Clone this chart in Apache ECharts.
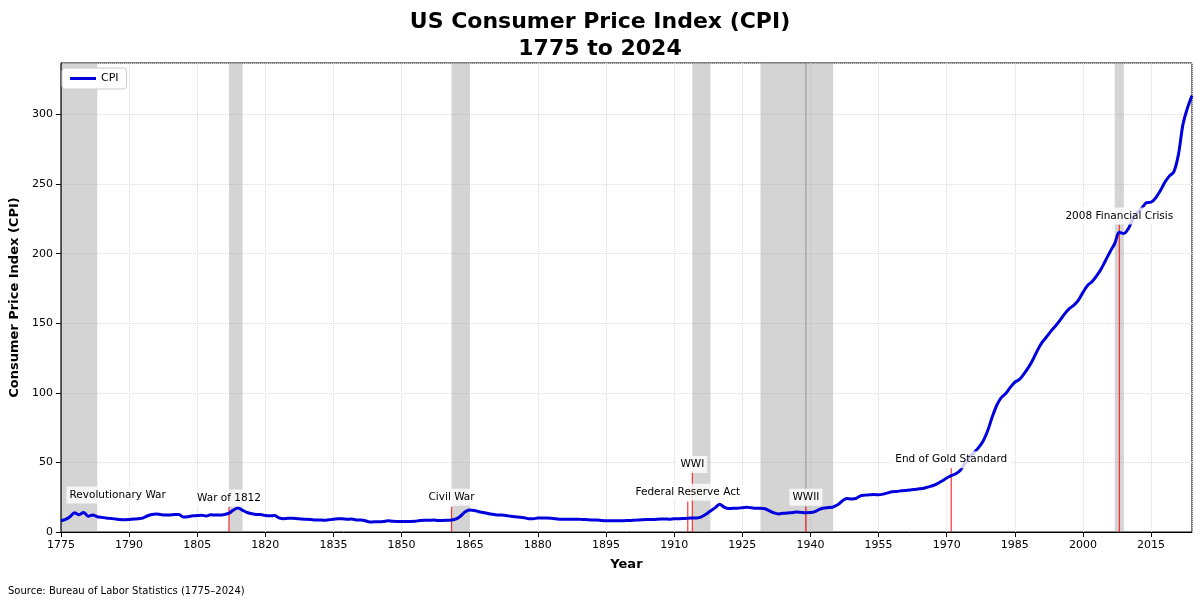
<!DOCTYPE html>
<html>
<head>
<meta charset="utf-8">
<script src="https://cdn.jsdelivr.net/npm/echarts@6/dist/echarts.min.js"></script>
<style>html,body{margin:0;padding:0;background:#fff}#main{width:1200px;height:604px}</style>
</head>
<body>
<div id="main"></div>
<script>
// CPI by year, 1775..2024, split into eras
var startYear = 1775;
var cpi1775 = [8,9,11,13.8,12.4,14,11.4,12.3,11,10.5,10,9.7,9.4,9,8.8,9,9.3,9.5,10,11.5,12.6,13,12.5,12.2,12.3,12.5];
var cpi1801 = [12.6,10.7,11,11.6,11.8,12,11.5,12.4,12.2,12.2,12.6,13.5,15.8,17.2,15.6,14,13.2,12.6,12.5,11.8,11.6,11.8,10.2,9.6,9.8,9.8,9.6,9.3,9.2,9];
var cpi1831 = [8.7,8.6,8.5,8.8,9.1,9.5,9.6,9.2,9.3,8.7,8.6,8.1,7.2,7.3,7.3,7.5,8,7.7,7.6,7.6,7.6,7.6,7.7,8.3,8.5,8.4,8.6,8.3,8.3,8.4];
var cpi1861 = [8.6,9.4,11.5,14.5,15.8,15.5,14.6,14,13.3,12.7,12.2,12.2,11.9,11.3,10.9,10.6,10.2,9.6,9.6,10,10,10,9.8,9.5,9.2,9.1,9.1,9.2,9.1,9];
var cpi1891 = [8.8,8.7,8.7,8.3,8.1,8.1,8,8,8.1,8.3,8.4,8.6,8.8,8.9,8.9,9.1,9.4,9.3,9.2,9.5,9.5,9.7];
var cpi1913 = [9.9,10.0,10.1,10.9,12.8,15.1,17.3,20.0,17.9,16.8,17.1,17.1,17.5,17.7,17.4,17.1,17.1,16.7,15.2,13.7,13.0,13.4,13.7,13.9,14.4,14.1,13.9,14.0,14.7,16.3,17.3,17.6,18.0,19.5,22.3,24.1,23.8,24.1,26.0,26.5,26.7,26.9,26.8,27.2,28.1,28.9,29.1,29.6];
var cpi1961 = [29.9,30.2,30.6,31.0,31.5,32.4,33.4,34.8,36.7,38.8,40.5,41.8,44.4,49.3,53.8,56.9,60.6,65.2,72.6,82.4,90.9,96.5,99.6,103.9,107.6,109.6,113.6,118.3,124.0,130.7,136.2,140.3,144.5,148.2,152.4,156.9,160.5,163.0,166.6,172.2,177.1,179.9,184.0,188.9,195.3,201.6,207.3,215.3,214.5,218.1,224.9,229.6,233.0,236.7,237.0,240.0,245.1,251.1,255.7,258.8,271.0,292.7,304.7,313.7];

// shaded periods [start, end]
var shadeStart = [1775, 1812, 1861, 1914, 1929, 2007];
var shadeEnd   = [1783, 1815, 1865, 1918, 1945, 2009];

// events: label text, label position, red line year and height
var eventNames = ['Revolutionary War','War of 1812','Civil War','Federal Reserve Act','WWI','WWII','End of Gold Standard','2008 Financial Crisis'];
var labelX = [1787.5, 1812, 1861, 1913, 1914, 1939, 1971, 2008];
var labelY = [26.5, 24.5, 25, 28.5, 48.5, 25, 52, 227];
var lineYear = [1812, 1861, 1913, 1914, 1939, 1971, 2008];
var lineTop  = [18, 18, 22, 44, 18, 46, 221];

var cpiAll = [].concat(cpi1775, cpi1801, cpi1831, cpi1861, cpi1891, cpi1913, cpi1961);
var cpiData = cpiAll.map(function (v, i) { return [startYear + i, v]; });

var shades = shadeStart.map(function (s, i) { return [s, shadeEnd[i]]; });
var redLines = lineYear.map(function (y, i) { return [y, lineTop[i]]; });
var labelPts = eventNames.map(function (n, i) { return { name: n, value: [labelX[i], labelY[i]] }; });

var font = 'DejaVu Sans';
var grid = { type: 'dotted', color: '#dcdcdc' };
var myChart = echarts.init(document.getElementById('main'));
myChart.setOption({
  animation: false,
  textStyle: { fontFamily: font },
  title: {
    text: 'US Consumer Price Index (CPI)\n1775 to 2024',
    left: 'center', top: 4,
    textStyle: { fontSize: 22, fontWeight: 'bold', color: '#000', lineHeight: 27, fontFamily: font }
  },
  graphic: [{
    type: 'text', left: 8, top: 586,
    style: { text: 'Source: Bureau of Labor Statistics (1775–2024)', fontSize: 10, fill: '#000', fontFamily: font }
  }],
  legend: {
    left: 62, top: 68, orient: 'vertical',
    data: [{ name: 'CPI', icon: 'rect' }],
    itemWidth: 26, itemHeight: 3,
    backgroundColor: '#fff', borderColor: '#ccc', borderWidth: 1, borderRadius: 3,
    padding: [5, 8],
    textStyle: { fontSize: 11, color: '#000' }
  },
  grid: { left: 57, right: 8, top: 63, bottom: 72, show: true, borderColor: '#000', borderWidth: 1, backgroundColor: 'transparent' },
  xAxis: {
    type: 'value', min: 1775, max: 2024, interval: 15,
    name: 'Year', nameLocation: 'middle', nameGap: 26,
    nameTextStyle: { fontSize: 13, fontWeight: 'bold', color: '#000' },
    axisLine: { lineStyle: { color: '#000' } },
    axisTick: { show: true, lineStyle: { color: '#000' } },
    axisLabel: { color: '#000', fontSize: 11, showMaxLabel: false, formatter: function (v) { return (v - 1775) % 15 === 0 ? String(v) : ''; } },
    splitLine: { show: true, lineStyle: grid }
  },
  yAxis: {
    type: 'value', min: 0, max: 337, interval: 50,
    name: 'Consumer Price Index (CPI)', nameLocation: 'middle', nameGap: 36,
    nameTextStyle: { fontSize: 13, fontWeight: 'bold', color: '#000' },
    axisLine: { show: true, lineStyle: { color: '#000' } },
    axisTick: { show: true, lineStyle: { color: '#000' } },
    axisLabel: { color: '#000', fontSize: 11, showMaxLabel: false, formatter: function (v) { return v % 50 === 0 ? String(v) : ''; } },
    splitLine: { show: true, lineStyle: grid }
  },
  series: [
    {
      name: 'shade', type: 'custom', data: shades, silent: true, z: 1,
      renderItem: function (params, api) {
        var p0 = api.coord([api.value(0), 337]);
        var p1 = api.coord([api.value(1), 0]);
        var children = [{
          type: 'rect',
          shape: { x: p0[0], y: p0[1], width: p1[0] - p0[0], height: p1[1] - p0[1] },
          style: { fill: 'rgba(160,160,160,0.45)' }
        }];
        if (api.value(0) === 1929) {
          var m0 = api.coord([1939, 337]), m1 = api.coord([1939, 0]);
          children.push({ type: 'line', shape: { x1: m0[0], y1: m0[1], x2: m1[0], y2: m1[1] },
            style: { stroke: 'rgba(120,120,120,0.6)', lineWidth: 1.2 } });
        }
        return { type: 'group', children: children };
      }
    },
    {
      name: 'redlines', type: 'custom', data: redLines, silent: true, z: 3,
      renderItem: function (params, api) {
        var p0 = api.coord([api.value(0), 0]);
        var p1 = api.coord([api.value(0), api.value(1)]);
        return {
          type: 'line',
          shape: { x1: p0[0], y1: p0[1], x2: p1[0], y2: p1[1] },
          style: { stroke: 'rgba(255,0,0,0.8)', lineWidth: 1.2 }
        };
      }
    },
    {
      name: 'CPI', type: 'line', data: cpiData, smooth: 0.3, showSymbol: false,
      lineStyle: { color: '#0000dd', width: 3 }, itemStyle: { color: '#0000dd' },
      z: 4
    },
    {
      name: 'events', type: 'scatter', data: labelPts, symbolSize: 0, z: 5, silent: true,
      itemStyle: { opacity: 1 },
      label: {
        show: true, position: 'inside', formatter: '{b}', color: '#000', fontSize: 10.5,
        backgroundColor: 'rgba(255,255,255,0.8)', padding: [3, 3], opacity: 1
      }
    }
  ]
});
</script>
</body>
</html>
